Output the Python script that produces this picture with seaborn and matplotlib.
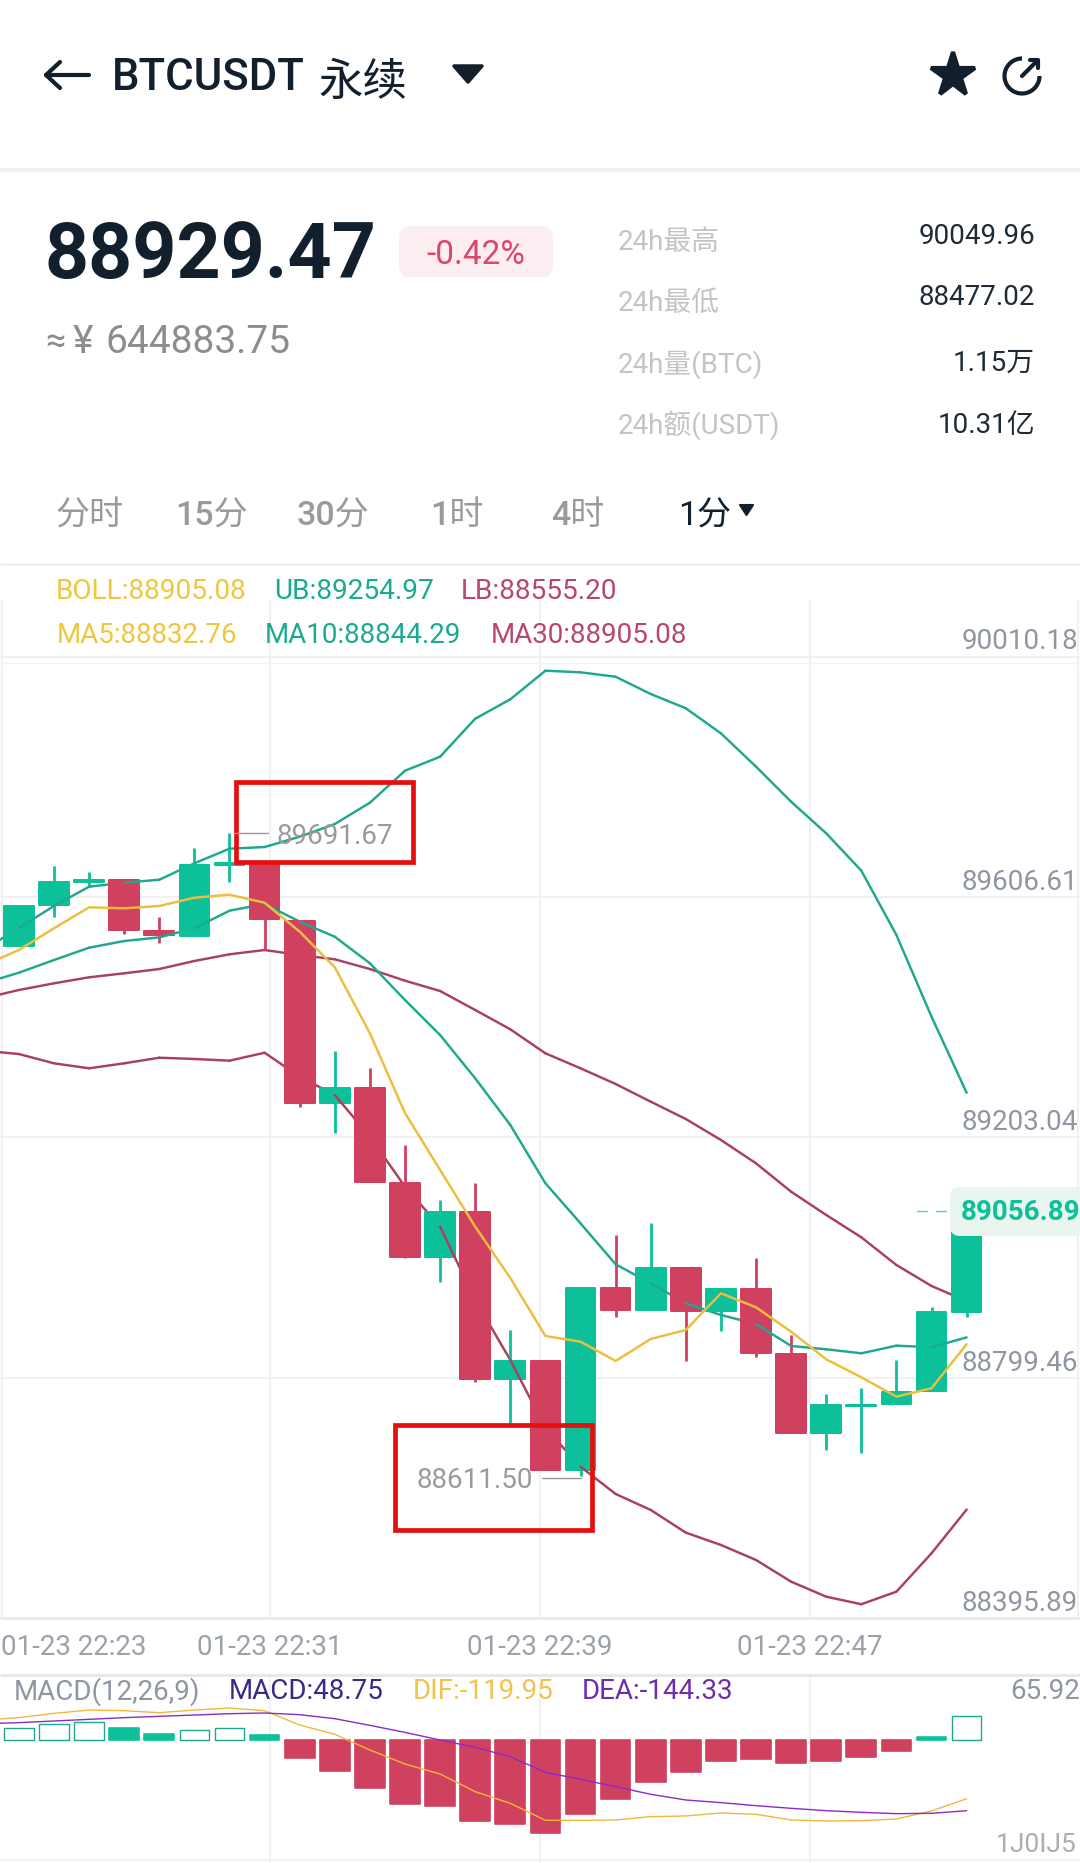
import numpy as np
import matplotlib
matplotlib.use("Agg")
import matplotlib.pyplot as plt
import seaborn as sns
from matplotlib.patches import Arc, FancyBboxPatch, Polygon, Rectangle
from matplotlib.transforms import ScaledTranslation

# candles, 1 minute
opens = [89501.4, 89570.2, 89608.3, 89612.1, 89527.0, 89518.6, 89637.3, 89637.3, 89543.8, 89237.3,
         89262.5, 89104.0, 88979.8, 89054.3, 88774.0, 88805.2, 88621.7, 88926.7, 88890.3, 88961.3,
         88889.1, 88925.0, 88816.4, 88684.3, 88729.0, 88732.5, 88754.3, 88887.4]
highs = [89568.5, 89635.6, 89625.1, 89612.1, 89549.5, 89666.4, 89691.67, 89637.3, 89543.8, 89325.1,
         89297.1, 89166.8, 89075.0, 89104.0, 88856.7, 88805.2, 88926.7, 89016.2, 89035.8, 88961.3,
         88926.7, 88977.6, 88848.3, 88749.3, 88759.9, 88806.4, 88895.8, 89056.89]
lows = [89501.4, 89550.5, 89600.9, 89521.0, 89506.9, 89518.6, 89608.3, 89494.6, 89231.6, 89187.9,
        89104.7, 88977.1, 88937.8, 88770.0, 88700.6, 88621.7, 88611.50, 88878.0, 88890.3, 88805.2,
        88855.5, 88811.9, 88684.3, 88655.3, 88649.7, 88732.5, 88754.3, 88879.0]
closes = [89568.5, 89609.3, 89612.1, 89528.2, 89519.3, 89637.3, 89640.2, 89546.7, 89237.3, 89262.5,
          89104.7, 88979.8, 89054.3, 88774.0, 88805.2, 88621.7, 88926.7, 88890.3, 88961.3, 88889.1,
          88925.0, 88817.6, 88684.3, 88730.3, 88731.3, 88752.6, 88886.4, 89056.89]

# overlay lines, first value is the candle just off the left edge
ma5 = [89468.9, 89494.6, 89531.1, 89566.3, 89564.6, 89568.5, 89582.4, 89587.5, 89574.0, 89525.4,
       89465.6, 89354.8, 89221.0, 89125.3, 89030.1, 88944.0, 88846.7, 88837.1, 88804.7, 88841.6,
       88856.7, 88918.3, 88894.8, 88853.9, 88807.5, 88777.3, 88744.8, 88758.9, 88832.76]
ma10 = [89438.7, 89456.5, 89477.8, 89498.5, 89509.7, 89515.9, 89531.1, 89560.6, 89571.9, 89542.2,
        89516.9, 89472.3, 89410.7, 89351.9, 89279.2, 89200.9, 89103.0, 89035.8, 88967.0, 88935.1,
        88901.5, 88881.9, 88866.8, 88829.9, 88824.3, 88817.6, 88830.4, 88827.7, 88844.29]
ub = [89495.0, 89531.6, 89568.5, 89600.9, 89607.6, 89612.6, 89640.2, 89664.7, 89667.5, 89684.8,
      89706.1, 89741.9, 89795.6, 89819.1, 89882.9, 89915.5, 89963.5, 89960.8, 89953.4, 89924.4,
      89900.4, 89858.4, 89802.4, 89743.6, 89690.5, 89627.8, 89519.8, 89382.7, 89254.97]
boll = [89413.5, 89427.5, 89438.7, 89448.8, 89455.5, 89462.7, 89476.2, 89487.4, 89494.6, 89486.2,
        89479.0, 89462.7, 89443.1, 89425.8, 89393.9, 89361.5, 89321.2, 89296.0, 89269.7, 89240.0,
        89210.9, 89175.7, 89136.5, 89088.9, 89049.8, 89012.3, 88965.8, 88930.6, 88905.08]
lb = [89325.6, 89320.0, 89304.4, 89296.0, 89304.4, 89313.8, 89311.7, 89308.8, 89322.2, 89281.9,
      89251.2, 89181.2, 89097.3, 89030.1, 88907.1, 88806.4, 88692.2, 88627.2, 88581.4, 88554.6,
      88516.5, 88495.8, 88470.6, 88434.2, 88409.0, 88396.3, 88417.4, 88481.8, 88555.20]

# macd panel
hist = [23.8, 32.6, 36.0, 23.8, 12.9, 21.1, 23.8, 10.2, -37.4, -63.2, -97.2, -129.9, -134.0, -165.9,
        -172.0, -189.0, -150.3, -121.0, -85.0, -66.0, -42.8, -38.1, -47.6, -42.2, -34.0, -21.8, 6.1, 48.75]
hist_hollow = [0, 1, 2, 5, 6, 27]
dif = [40.8, 45.6, 54.4, 61.2, 59.8, 55.8, 61.2, 65.3, 59.8, 30.6, 11.6, -20.4, -49.0, -69.4, -105.4,
       -129.2, -163.9, -163.9, -163.2, -156.4, -155.0, -148.9, -151.6, -163.2, -165.2, -164.6, -161.2,
       -144.8, -119.95]
dea = [33.3, 35.4, 38.8, 42.2, 45.6, 48.3, 51.0, 53.7, 55.1, 51.7, 43.5, 29.9, 15.6, 0.0, -15.0, -34.0,
       -66.0, -80.2, -95.2, -110.8, -122.4, -127.8, -134.0, -139.4, -144.2, -147.6, -150.3, -149.6,
       -144.33]

price_ticks = [90010.18, 89606.61, 89203.04, 88799.46, 88395.89]
time_labels = ["01-23 22:23", "01-23 22:31", "01-23 22:39", "01-23 22:47"]
stat_names = ["24h最高", "24h最低", "24h量(BTC)", "24h额(USDT)"]
stat_values = ["90049.96", "88477.02", "1.15万", "10.31亿"]
tab_names = ["分时", "15分", "30分", "1时", "4时"]

GREEN = "#0CC09A"
RED = "#D0415F"
TEAL = "#1FA88F"
CRIMSON = "#A8415F"
YELLOW = "#EDBE3C"
DARK = "#12202E"
GREY = "#8F96A3"
GRID = "#F0F0F2"
FONT = ["Roboto", "Noto Sans CJK SC", "DejaVu Sans"]

sns.set_theme(style="white")
plt.rcParams["font.family"] = FONT

W, H = 1080, 1863
fig = plt.figure(figsize=(W / 100, H / 100), dpi=100, facecolor="white")


def px_axes(top, bottom):
    return fig.add_axes([0, (H - bottom) / H, 1, (bottom - top) / H])


ax = px_axes(600, 1618)
ax_macd = px_axes(1674, H)
top = fig.add_axes([0, 0, 1, 1], zorder=50)
top.set_xlim(0, W)
top.set_ylim(H, 0)
top.axis("off")
top.patch.set_alpha(0)

candle_x = np.arange(len(opens))
line_x = np.arange(-1, len(opens))
x_lim = (-0.538, 30.23)
body_w = 0.846
is_red = [c < o for o, c in zip(opens, closes)]

# ---- price panel
for i in candle_x:
    color = RED if is_red[i] else GREEN
    z = 10 + 2 * i
    ax.vlines(i, lows[i], highs[i], color=color, lw=2.0, zorder=z)
    b = ax.bar(i, abs(closes[i] - opens[i]), bottom=min(opens[i], closes[i]), width=body_w,
               color=color, edgecolor=color, linewidth=1.44, zorder=z)
    b[0].set_joinstyle("round")

# each segment sits over the candle it leaves and under the one it reaches,
# the crimson ones stay hidden behind red candles
for series, color in [(ub, TEAL), (ma10, TEAL), (boll, CRIMSON), (lb, CRIMSON)]:
    for j in range(len(series) - 1):
        z = 9 + 2 * j
        if color == CRIMSON and j > 0 and is_red[j - 1]:
            z = 7 + 2 * j
        sns.lineplot(x=line_x[j:j + 2], y=series[j:j + 2], color=color, linewidth=1.75, ax=ax,
                     estimator=None, legend=False, zorder=z)
sns.lineplot(x=line_x, y=ma5, color=YELLOW, linewidth=1.75, ax=ax, estimator=None, legend=False, zorder=200)

ax.set_xlim(*x_lim)
ax.set_ylim(88373.2, 90082.2)
ax.set(xlabel="", ylabel="", xticks=[])
for t in price_ticks:
    ax.axhline(t - 23, color=GRID, lw=1.3, zorder=1)
for frac in [0.0015, 0.25, 0.5, 0.75, 0.9985]:
    ax.axvline(x_lim[0] + frac * (x_lim[1] - x_lim[0]), color=GRID, lw=1.3, zorder=1)
for side in ax.spines.values():
    side.set_visible(False)
ax.set_yticks(price_ticks)
ax.set_yticklabels([f"{t:.2f}" for t in price_ticks])
ax.yaxis.tick_right()
ax.tick_params(axis="y", length=0, pad=-2, labelsize=20, labelcolor=GREY)
for lab in ax.get_yticklabels():
    lab.set_ha("right")
    lab.set_zorder(300)
    lab.set_transform(lab.get_transform() + ScaledTranslation(1 / 100, 4 / 100, fig.dpi_scale_trans))

# ---- macd panel
sns.barplot(x=candle_x, y=hist, native_scale=True, width=0.846, color=RED, saturation=1, ax=ax_macd, zorder=5)
for i, bar in enumerate(ax_macd.patches):
    if i in hist_hollow:
        bar.set(facecolor="white", edgecolor=TEAL, linewidth=1.0)
    else:
        c = GREEN if hist[i] > 0 else RED
        bar.set(facecolor=c, edgecolor=c, linewidth=1.2)
    bar.set_joinstyle("round")
sns.lineplot(x=line_x, y=dif, color="#F0B83C", linewidth=1.0, ax=ax_macd, estimator=None, legend=False, zorder=7)
sns.lineplot(x=line_x, y=dea, color="#8B2BC6", linewidth=1.0, ax=ax_macd, estimator=None, legend=False, zorder=8)
ax_macd.set_xlim(*x_lim)
ax_macd.set_ylim(-251.0, 134.7)
ax_macd.set(xlabel="", ylabel="", xticks=[], yticks=[])
for frac in [0.25, 0.5, 0.75]:
    ax_macd.axvline(x_lim[0] + frac * (x_lim[1] - x_lim[0]), color=GRID, lw=1.3, zorder=1)
ax_macd.axhline(-245, color=GRID, lw=1.3, zorder=1)
for side in ax_macd.spines.values():
    side.set_visible(False)


# ---- everything around the charts, in screen pixels
def label(x, y, s, size, color, ha="left", weight="normal", **kw):
    top.text(x, y + 2.4, s, fontsize=size, color=color, ha=ha, va="center", fontweight=weight, **kw)


def rule(y, color, lw):
    top.plot([0, W], [y, y], color=color, lw=lw, solid_capstyle="butt", zorder=1)


rule(170, "#EFEFEF", 2.6)
rule(563.5, "#E6E6E6", 1.0)
rule(663, "#F5F5F5", 1.0)
rule(1618, "#EBEBEB", 2.2)
rule(1675, "#E8E8E8", 2.2)

# header
top.plot([89, 46], [75, 75], color=DARK, lw=3, solid_capstyle="round")
top.plot([60, 46, 60], [62, 75, 88], color=DARK, lw=3, solid_capstyle="round", solid_joinstyle="round")
label(112, 76, "BTCUSDT", 31.5, DARK, weight="medium")
label(318, 81, "永续", 32, DARK)
top.add_patch(Polygon([(454, 66), (482, 66), (468, 82)], closed=True, fc=DARK, ec=DARK, lw=2.5, joinstyle="round"))
top.plot(953, 75, marker="*", ms=33, color=DARK, mec=DARK, mew=3, mfc=DARK)
top.add_patch(Arc((1022, 76), 35, 35, theta1=0, theta2=270, color=DARK, lw=3))
top.plot([1022, 1036], [76, 62], color=DARK, lw=3)
top.plot([1030, 1038, 1038], [60, 60, 68], color=DARK, lw=3)

# price block
label(45, 255, "88929.47", 55.5, DARK, weight="semibold")
top.add_patch(FancyBboxPatch((407, 234), 138, 35, boxstyle="round,pad=8,rounding_size=12", fc="#FCEDF0", ec="none"))
label(476, 253, "-0.42%", 24, "#D9476A", ha="center")
label(45, 340, "≈", 26, "#8D8D8D")
label(73, 340, "¥", 28, "#8D8D8D")
label(105, 340, "644883.75", 28, "#8D8D8D")

for name, value, y_name, y_val in zip(stat_names, stat_values, [240, 301, 362, 423], [234, 295, 361, 423]):
    label(618, y_name, name, 20, "#C4C4C4")
    label(1035, y_val, value, 20, "#1E2A35", ha="right")

for name, x in zip(tab_names, [56, 175, 297, 430, 551]):
    label(x, 514, name, 24.5, "#9A9A9A", weight="medium")
label(678, 514, "1分", 24.5, DARK)
top.add_patch(Polygon([(740, 505), (753, 505), (746.5, 515)], closed=True, fc=DARK, ec=DARK, lw=1.5, joinstyle="round"))

# indicator legends
for x, s, c in [(56, "BOLL:88905.08", "#F0C63F"), (274, "UB:89254.97", "#1BAA90"), (461, "LB:88555.20", "#B8476A")]:
    label(x, 589, s, 20.2, c)
for x, s, c in [(57, "MA5:88832.76", "#F0C63F"), (265, "MA10:88844.29", "#1BAA90"), (491, "MA30:88905.08", "#B8476A")]:
    label(x, 633, s, 20, c)
for x, s, c in [(14, "MACD(12,26,9)", GREY), (229, "MACD:48.75", "#3A2A86"), (413, "DIF:-119.95", "#EFC44E"),
                (582, "DEA:-144.33", "#6E2DB0")]:
    label(x, 1689, s, 20, c)
label(1080, 1689, "65.92", 20, GREY, ha="right")

# time axis
label(1, 1645, time_labels[0], 20, "#9CA2AB")
for x, s in zip([270, 540, 810], time_labels[1:]):
    label(x, 1645, s, 20, "#9CA2AB", ha="center")

# high / low callouts
top.plot([234, 268], [833, 833], color="#9A9A9A", lw=1.0)
label(276, 834, "89691.67", 20, "#9A9A9A")
top.plot([542, 581], [1477.7, 1477.7], color="#9A9A9A", lw=1.0)
label(417, 1478, "88611.50", 20, "#9A9A9A")
top.add_patch(Rectangle((236, 782), 177, 80, fc="none", ec="#E60F10", lw=3.4, joinstyle="miter"))
top.add_patch(Rectangle((395, 1425), 197, 105, fc="none", ec="#E60F10", lw=3.4, joinstyle="miter"))

# last price tag
top.plot([917, 927], [1211, 1211], color=GREEN, lw=1.0, alpha=0.7)
top.plot([936, 946], [1211, 1211], color=GREEN, lw=1.0, alpha=0.7)
top.add_patch(FancyBboxPatch((960, 1197), 140, 29, boxstyle="round,pad=10,rounding_size=10", fc="#EAF5F0", ec="none"))
label(1080, 1210, "89056.89", 20, GREEN, ha="right", weight="bold")

# blurred watermark
label(1077, 1843, "1J0IJ5", 19, "#777777", ha="right", alpha=0.6)

fig.savefig("out.png", dpi=100, facecolor="white")
